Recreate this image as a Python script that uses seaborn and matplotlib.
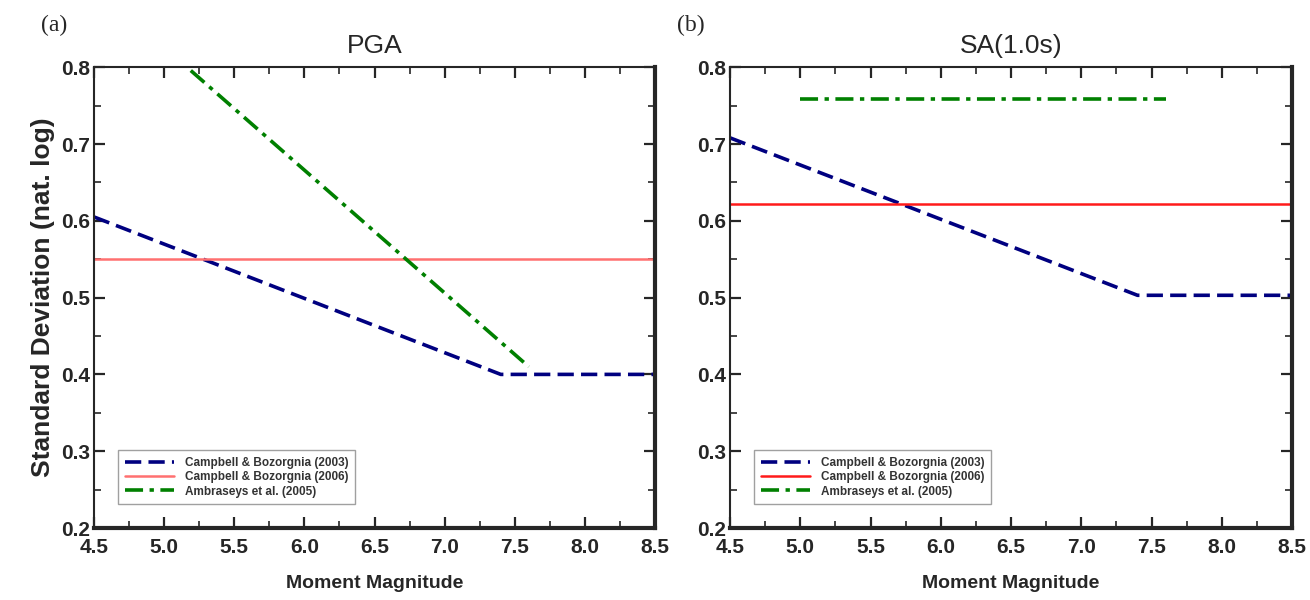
import numpy as np
import pandas as pd
import matplotlib
matplotlib.use("Agg")
import matplotlib.pyplot as plt
import seaborn as sns

# Standard deviation models vs. moment magnitude
mag_cb03 = [4.5, 7.4, 8.5]
pga_cb03 = [0.605, 0.40, 0.40]
sa1_cb03 = [0.708, 0.503, 0.503]

mag_cb06 = [4.5, 8.5]
pga_cb06 = [0.55, 0.55]
sa1_cb06 = [0.622, 0.622]

mag_ab05 = [5.0, 7.6]
pga_ab05 = [0.826, 0.41]
sa1_ab05 = [0.758, 0.758]

labels = ["Campbell & Bozorgnia (2003)",
          "Campbell & Bozorgnia (2006)",
          "Ambraseys et al. (2005)"]
titles = ["PGA", "SA(1.0s)"]
panel_tags = ["(a)", "(b)"]
xticks = [4.5, 5.0, 5.5, 6.0, 6.5, 7.0, 7.5, 8.0, 8.5]
yticks = [0.2, 0.3, 0.4, 0.5, 0.6, 0.7, 0.8]

sns.set_style("ticks")
plt.rcParams["font.family"] = ["Liberation Sans", "DejaVu Sans"]

fig = plt.figure(figsize=(13.1, 6.0), dpi=100)
axes = [fig.add_axes([0.0718, 0.12, 0.4282, 0.768]),
        fig.add_axes([0.5573, 0.12, 0.4290, 0.768])]

series = [
    (mag_cb03, [pga_cb03, sa1_cb03]),
    (mag_cb06, [pga_cb06, sa1_cb06]),
    (mag_ab05, [pga_ab05, sa1_ab05]),
]
red_colors = ["#ff7070", "#ff1a1a"]

for i, ax in enumerate(axes):
    df_cb03 = pd.DataFrame({"M": mag_cb03, "s": series[0][1][i]})
    df_cb06 = pd.DataFrame({"M": mag_cb06, "s": series[1][1][i]})
    df_ab05 = pd.DataFrame({"M": mag_ab05, "s": series[2][1][i]})

    sns.lineplot(data=df_cb03, x="M", y="s", ax=ax, color="#000080",
                 linewidth=2.6, label=labels[0])
    ax.lines[-1].set_dashes([4.5, 2.0])
    sns.lineplot(data=df_cb06, x="M", y="s", ax=ax, color=red_colors[i],
                 linewidth=1.8, label=labels[1])
    sns.lineplot(data=df_ab05, x="M", y="s", ax=ax, color="#008000",
                 linewidth=2.6, label=labels[2])
    ax.lines[-1].set_dashes([5, 1.8, 1.2, 1.8])

    ax.set_xlim(4.5, 8.5)
    ax.set_ylim(0.2, 0.8)
    ax.set_xticks(xticks)
    ax.set_xticklabels([f"{v:.1f}" for v in xticks])
    ax.set_xticks(np.arange(4.75, 8.5, 0.5), minor=True)
    ax.set_yticks(yticks)
    ax.set_yticklabels([f"{v:.1f}" for v in yticks])
    ax.set_yticks(np.arange(0.25, 0.8, 0.1), minor=True)

    ax.tick_params(which="both", direction="in", top=True, right=True,
                   labelsize=15)
    ax.tick_params(axis="x", which="both", pad=7)
    ax.tick_params(axis="y", which="both", pad=3)
    ax.tick_params(which="major", length=8, width=1.6)
    ax.tick_params(which="minor", length=5, width=1.2)
    for lab in ax.get_xticklabels() + ax.get_yticklabels():
        lab.set_fontweight("bold")

    ax.spines["left"].set_linewidth(1.5)
    ax.spines["top"].set_linewidth(1.5)
    ax.spines["right"].set_linewidth(3.0)
    ax.spines["bottom"].set_linewidth(3.0)

    ax.set_xlabel("Moment Magnitude", fontsize=14, fontweight="bold",
                  labelpad=13)
    ax.set_ylabel("")
    ax.set_title(titles[i], fontsize=19, pad=10)
    ax.text(-0.095, 1.091, panel_tags[i], transform=ax.transAxes,
            fontsize=17, family="Liberation Serif", ha="left", va="center")

    leg = ax.legend(loc="lower left", bbox_to_anchor=(0.043, 0.052),
                    fontsize=8.5, frameon=True, fancybox=False,
                    handlelength=4.2, borderpad=0.55, labelspacing=0.2,
                    handletextpad=0.9, borderaxespad=0)
    leg.get_frame().set_edgecolor("#888888")
    leg.get_frame().set_linewidth(1.0)
    for t in leg.get_texts():
        t.set_fontweight("bold")
        t.set_color("#333333")

axes[0].set_ylabel("Standard Deviation (nat. log)", fontsize=19,
                   fontweight="bold", labelpad=4)

fig.savefig("out.png", dpi=100, facecolor="white")
